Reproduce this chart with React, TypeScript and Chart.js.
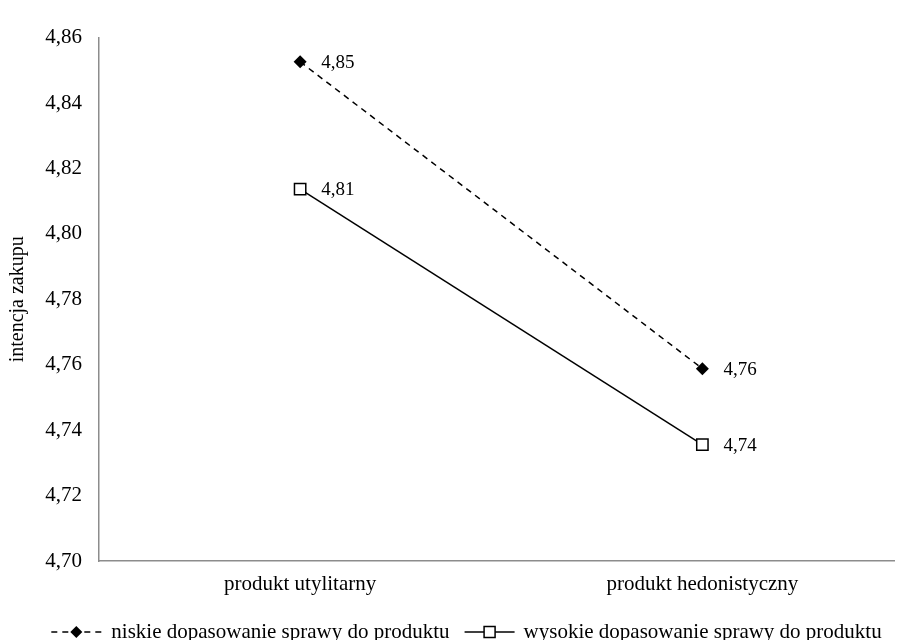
import React, { useEffect, useRef } from "react";
import { Chart, registerables } from "chart.js";

Chart.register(...registerables);

const categories = ["produkt utylitarny", "produkt hedonistyczny"];
const seriesNames = [
  "niskie dopasowanie sprawy do produktu",
  "wysokie dopasowanie sprawy do produktu",
];
const niskieValues = [4.8526, 4.7588];
const wysokieValues = [4.8137, 4.7356];
const yMin = 4.7;
const yMax = 4.86;
const yStep = 0.02;
const yTitle = "intencja zakupu";

const FONT = "'Liberation Serif', 'Times New Roman', serif";
const fmt = (v: number) => Number(v).toFixed(2).replace(".", ",");

function drawDiamond(ctx: CanvasRenderingContext2D, x: number, y: number, r: number) {
  ctx.save();
  ctx.setLineDash([]);
  ctx.beginPath();
  ctx.moveTo(x - r, y);
  ctx.lineTo(x, y - r);
  ctx.lineTo(x + r, y);
  ctx.lineTo(x, y + r);
  ctx.closePath();
  ctx.fillStyle = "#000";
  ctx.fill();
  ctx.restore();
}

function drawSquare(ctx: CanvasRenderingContext2D, x: number, y: number, s: number) {
  ctx.save();
  ctx.setLineDash([]);
  ctx.fillStyle = "#fff";
  ctx.strokeStyle = "#000";
  ctx.lineWidth = 1.5;
  ctx.fillRect(x - s / 2, y - s / 2, s, s);
  ctx.strokeRect(x - s / 2, y - s / 2, s, s);
  ctx.restore();
}

const labelsPlugin = {
  id: "valueLabels",
  afterDatasetsDraw(chart: any) {
    const ctx = chart.ctx as CanvasRenderingContext2D;
    ctx.save();
    ctx.font = `19px ${FONT}`;
    ctx.fillStyle = "#000";
    ctx.textAlign = "left";
    ctx.textBaseline = "middle";
    chart.data.datasets.forEach((ds: any, i: number) => {
      const meta = chart.getDatasetMeta(i);
      meta.data.forEach((pt: any, j: number) => {
        ctx.fillText(fmt(ds.data[j]), pt.x + 21, pt.y + 1);
      });
    });
    ctx.restore();
  },
};

const legendPlugin = {
  id: "customLegend",
  afterDraw(chart: any) {
    const ctx = chart.ctx as CanvasRenderingContext2D;
    ctx.save();
    ctx.font = `21px ${FONT}`;
    ctx.fillStyle = "#000";
    ctx.textBaseline = "middle";
    ctx.textAlign = "left";
    const sampleW = 50;
    const w1 = ctx.measureText(seriesNames[0]).width;
    const w2 = ctx.measureText(seriesNames[1]).width;
    const total = sampleW + 10 + w1 + 15 + sampleW + 9 + w2;
    const y = chart.height - 8;
    let x = chart.width / 2 + 6 - total / 2;
    ctx.strokeStyle = "#000";
    ctx.lineWidth = 1.5;
    ctx.setLineDash([6, 5]);
    ctx.beginPath();
    ctx.moveTo(x, y);
    ctx.lineTo(x + sampleW, y);
    ctx.stroke();
    drawDiamond(ctx, x + sampleW / 2, y, 6);
    x += sampleW + 10;
    ctx.fillText(seriesNames[0], x, y);
    x += w1 + 15;
    ctx.setLineDash([]);
    ctx.beginPath();
    ctx.moveTo(x, y);
    ctx.lineTo(x + sampleW, y);
    ctx.stroke();
    drawSquare(ctx, x + sampleW / 2, y, 11);
    x += sampleW + 9;
    ctx.fillText(seriesNames[1], x, y);
    ctx.restore();
  },
};

const yTitlePlugin = {
  id: "yTitle",
  afterDraw(chart: any) {
    const ctx = chart.ctx as CanvasRenderingContext2D;
    const area = chart.chartArea;
    ctx.save();
    ctx.font = `20px ${FONT}`;
    ctx.fillStyle = "#000";
    ctx.textAlign = "center";
    ctx.textBaseline = "alphabetic";
    ctx.translate(15, (area.top + area.bottom) / 2);
    ctx.rotate(-Math.PI / 2);
    ctx.fillText(yTitle, 0, 0);
    ctx.restore();
  },
};

export default function App() {
  const ref = useRef<HTMLCanvasElement | null>(null);

  useEffect(() => {
    if (!ref.current) return;
    const chart = new Chart(ref.current, {
      type: "line",
      data: {
        labels: categories,
        datasets: [
          {
            label: seriesNames[0],
            data: niskieValues,
            borderColor: "#000",
            borderWidth: 1.5,
            borderDash: [6, 5],
            pointStyle: "rectRot",
            pointRadius: 6.5,
            pointBackgroundColor: "#000",
            pointBorderColor: "#000",
            pointBorderWidth: 0,
            tension: 0,
          },
          {
            label: seriesNames[1],
            data: wysokieValues,
            borderColor: "#000",
            borderWidth: 1.5,
            pointStyle: "rect",
            pointRadius: 8,
            pointBackgroundColor: "#fff",
            pointBorderColor: "#000",
            pointBorderWidth: 1.5,
            tension: 0,
          },
        ],
      },
      options: {
        responsive: false,
        animation: false,
        layout: { padding: { top: 13, bottom: 43, left: 0, right: 0 } },
        plugins: {
          legend: { display: false },
          tooltip: { enabled: false },
        },
        scales: {
          x: {
            type: "category",
            offset: true,
            grid: { display: false, drawTicks: false },
            border: { display: true, color: "#8c8c8c", width: 1.5 },
            ticks: {
              color: "#000",
              padding: 11,
              maxRotation: 0,
              font: { family: FONT, size: 21 },
            },
            afterFit(scale: any) {
              scale.height = 36;
            },
          },
          y: {
            min: yMin,
            max: yMax,
            grid: { display: false, drawTicks: false },
            border: { display: true, color: "#8c8c8c", width: 1.5 },
            ticks: {
              stepSize: yStep,
              color: "#000",
              padding: 17,
              font: { family: FONT, size: 21 },
              callback: (v: any) => fmt(Number(v)),
            },
            afterFit(scale: any) {
              scale.width = 91;
            },
          },
        },
      },
      plugins: [labelsPlugin, legendPlugin, yTitlePlugin],
    });
    return () => chart.destroy();
  }, []);

  return (
    <div style={{ width: 895, height: 632, overflow: "hidden" }}>
      <canvas ref={ref} width={905} height={632} style={{ display: "block", width: 905, height: 632 }} />
    </div>
  );
}
